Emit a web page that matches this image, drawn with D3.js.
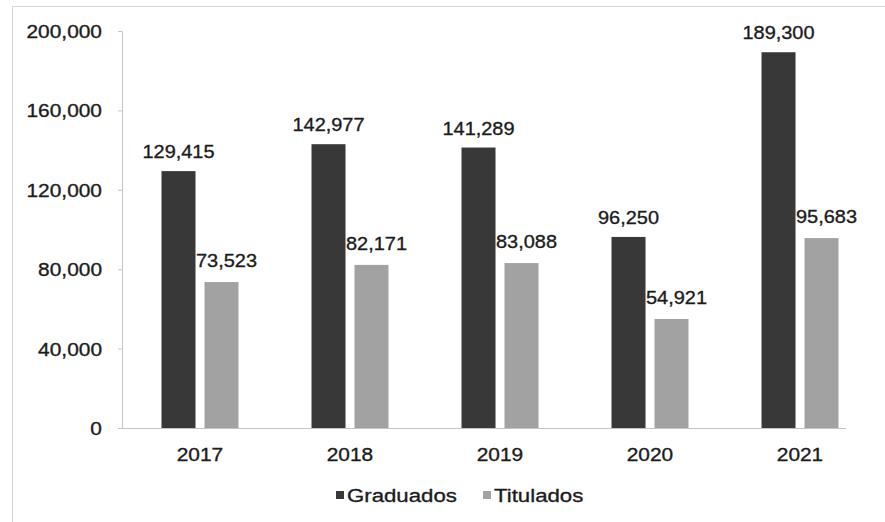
<!DOCTYPE html>
<html>
<head>
<meta charset="utf-8">
<script src="https://cdn.jsdelivr.net/npm/d3@7"></script>
<style>
  html, body { margin: 0; padding: 0; background: #fff; }
  svg { display: block; font-family: "Liberation Sans", Arial, sans-serif; }
  svg text { stroke: #1c1c1c; stroke-width: 0.35px; }
</style>
</head>
<body>
<svg id="chart" width="885" height="522"></svg>
<script>
// Graduates and degree holders per year
const years = ["2017", "2018", "2019", "2020", "2021"];
const graduados = [129415, 142977, 141289, 96250, 189300];
const titulados = [73523, 82171, 83088, 54921, 95683];
const seriesNames = ["Graduados", "Titulados"];
const yTicks = [0, 40000, 80000, 120000, 160000, 200000];

const colors = { Graduados: "#383838", Titulados: "#a2a2a2" };
const textColor = "#1c1c1c";
const fmt = d3.format(",");

const svg = d3.select("#chart");

// Faint frame around the chart area
svg.append("rect")
  .attr("x", 12.5).attr("y", 6.5)
  .attr("width", 900).attr("height", 540)
  .attr("fill", "none")
  .attr("stroke", "#d4d4d4")
  .attr("stroke-width", 1);

const x0 = d3.scaleBand()
  .domain(years)
  .range([125, 875])
  .paddingInner(0.4867)
  .paddingOuter(0.2433);

const x1 = d3.scaleBand()
  .domain(seriesNames)
  .range([0, x0.bandwidth()])
  .paddingInner(0.209);

const y = d3.scaleLinear().domain([0, 200000]).range([428, 31]);

// Horizontal text stretch helper
function place(sel, x, yy, sx) {
  return sel.attr("transform", `translate(${x},${yy}) scale(${sx},1)`);
}

// Y axis
const yAxis = svg.append("g")
  .attr("transform", "translate(122,0)")
  .call(d3.axisLeft(y).tickValues(yTicks).tickSize(4).tickFormat(""));
yAxis.select(".domain").attr("stroke", "#c4c4c4");
yAxis.selectAll(".tick line").attr("stroke", "#c4c4c4");

svg.append("g").selectAll("text")
  .data(yTicks)
  .join("text")
  .each(function (d) { place(d3.select(this), 102, y(d) + 7, 1.1); })
  .attr("text-anchor", "end")
  .attr("font-size", 19)
  .attr("fill", textColor)
  .text(d => fmt(d));

// Baseline
svg.append("line")
  .attr("x1", 122).attr("x2", 846)
  .attr("y1", y(0) + 0.5).attr("y2", y(0) + 0.5)
  .attr("stroke", "#c4c4c4");

// Bars
const rows = years.map((yr, i) => ({
  year: yr,
  values: [
    { key: "Graduados", value: graduados[i] },
    { key: "Titulados", value: titulados[i] }
  ]
}));

const groups = svg.append("g").selectAll("g")
  .data(rows)
  .join("g")
  .attr("transform", d => `translate(${x0(d.year)},0)`);

groups.selectAll("rect")
  .data(d => d.values)
  .join("rect")
  .attr("x", d => x1(d.key))
  .attr("y", d => y(d.value))
  .attr("width", x1.bandwidth())
  .attr("height", d => y(0) - y(d.value))
  .attr("fill", d => colors[d.key]);

// Value labels
groups.selectAll("text.val")
  .data(d => d.values)
  .join("text")
  .attr("class", "val")
  .each(function (d) {
    const cx = x1(d.key) + x1.bandwidth() / 2 + (d.key === "Titulados" ? 5 : 0);
    const ty = y(d.value) - (d.key === "Titulados" ? 15 : 13);
    place(d3.select(this), cx, ty, 1.05);
  })
  .attr("text-anchor", "middle")
  .attr("font-size", 19)
  .attr("fill", textColor)
  .text(d => fmt(d.value));

// Year labels
svg.append("g").selectAll("text")
  .data(years)
  .join("text")
  .each(function (d) { place(d3.select(this), x0(d) + x0.bandwidth() / 2, 461, 1.1); })
  .attr("text-anchor", "middle")
  .attr("font-size", 19)
  .attr("fill", textColor)
  .text(d => d);

// Legend
const legendX = [336, 483];
const legend = svg.append("g").selectAll("g")
  .data(seriesNames)
  .join("g")
  .attr("transform", (d, i) => `translate(${legendX[i]},0)`);

legend.append("rect")
  .attr("x", 0).attr("y", 491)
  .attr("width", 8).attr("height", 8)
  .attr("fill", d => colors[d]);

legend.append("text")
  .each(function () { place(d3.select(this), 11, 502, 1.17); })
  .attr("font-size", 19)
  .attr("fill", textColor)
  .text(d => d);
</script>
</body>
</html>
